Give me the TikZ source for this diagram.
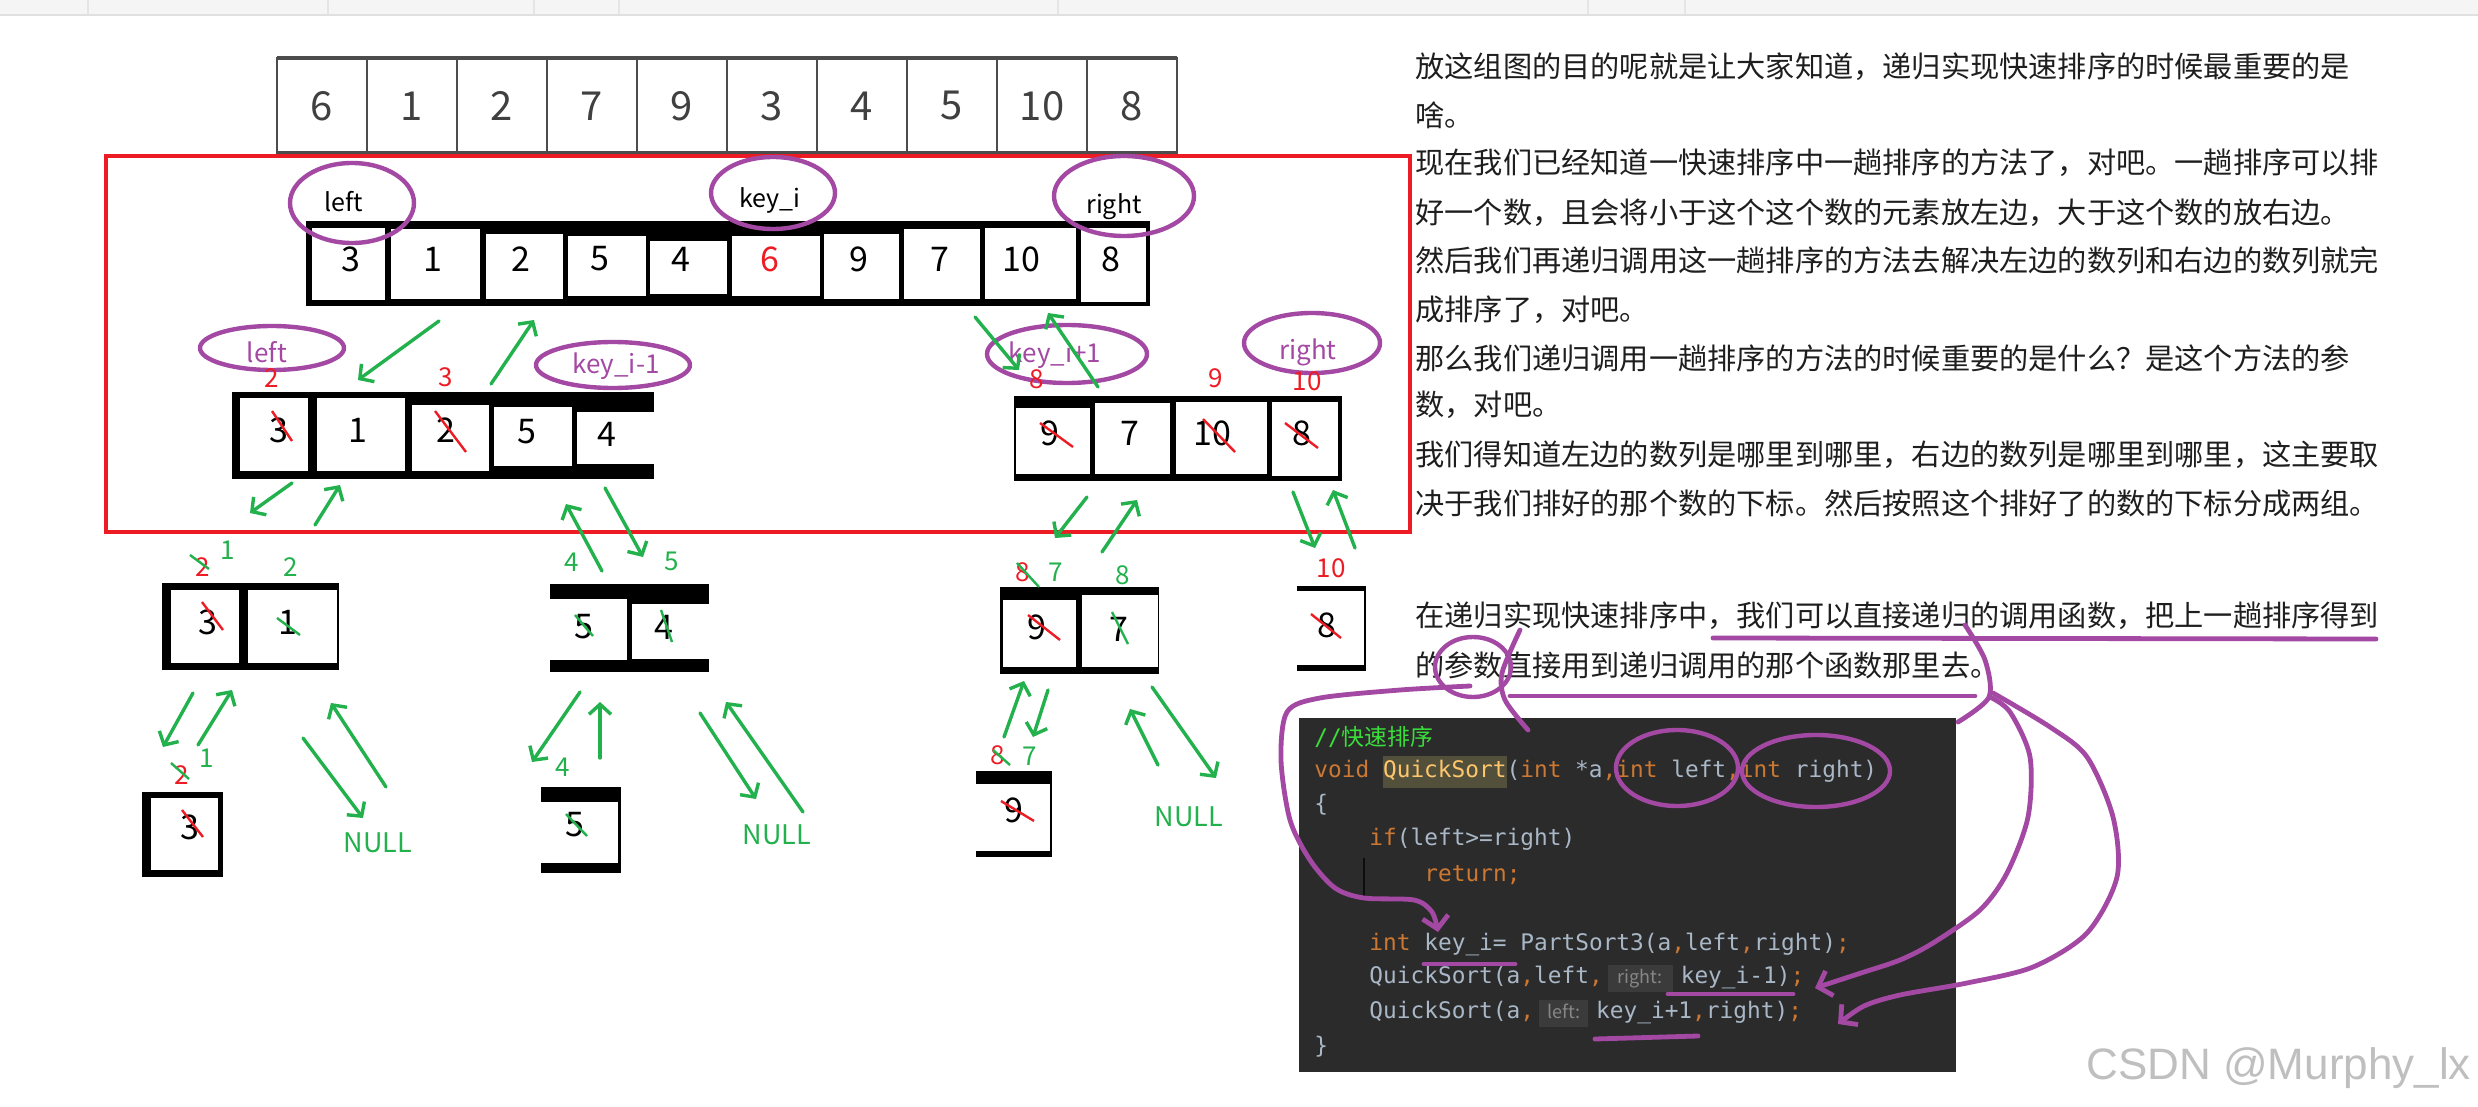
\documentclass[tikz,border=0pt]{standalone}
\usepackage{fontspec}
\setmainfont{Noto Sans CJK SC}
\newfontfamily\codefont{DejaVu Sans Mono}
\newfontfamily\markfont{Liberation Sans}
\usepackage{xcolor}
\usetikzlibrary{arrows.meta,calc}

\definecolor{paintred}{RGB}{237,28,36}
\definecolor{paintgreen}{RGB}{34,177,76}
\definecolor{paintpurple}{RGB}{163,73,164}
\definecolor{codebg}{RGB}{43,43,43}
\definecolor{kw}{RGB}{204,120,50}
\definecolor{plain}{RGB}{169,183,198}
\definecolor{fn}{RGB}{255,198,109}
\definecolor{fnbg}{RGB}{82,80,58}
\definecolor{cmt}{RGB}{58,222,58}
\definecolor{hintbg}{RGB}{59,59,59}
\definecolor{hinttxt}{RGB}{135,135,135}
\definecolor{txt}{RGB}{30,30,30}

% inlay hint box of the IDE
\newcommand{\inlay}[2]{\kern2.5pt{\setlength{\fboxsep}{0pt}\colorbox{hintbg}{\makebox[#1]{\rule[-4pt]{0pt}{13.5pt}{\rmfamily\fontsize{9}{9}\selectfont\color{hinttxt}#2}}}}\kern4pt}

\begin{document}
\begin{tikzpicture}[x=0.5pt, y=-0.5pt,
  num/.style={font=\fontsize{17}{17}\selectfont, inner sep=0pt},
  hand/.style={font=\fontsize{20}{20}\selectfont, text=black!75, inner sep=0pt},
  lbl/.style={font=\fontsize{12.5}{12.5}\selectfont, inner sep=0pt},
  plbl/.style={font=\fontsize{13}{13}\selectfont, text=paintpurple, inner sep=0pt},
  rnum/.style={font=\fontsize{13}{13}\selectfont, text=paintred, inner sep=0pt},
  gnum/.style={font=\fontsize{13}{13}\selectfont, text=paintgreen, inner sep=0pt},
  nulltxt/.style={font=\fontsize{13.5}{13.5}\selectfont, text=paintgreen, inner sep=0pt},
  para/.style={font=\fontsize{14.6}{14.6}\selectfont, text=txt, anchor=west, inner sep=0pt},
  codeln/.style={font=\codefont\fontsize{11.4}{11.4}\selectfont, text=plain, anchor=west, inner sep=0pt},
  garrow/.style={draw=paintgreen, line width=1.7pt, line cap=round, -{Straight Barb[length=5pt,width=11pt]}},
  pring/.style={draw=paintpurple, line width=2.2pt},
  pstroke/.style={draw=paintpurple, line width=2.4pt, line cap=round, line join=round},
  rstrike/.style={draw=paintred, line width=1.2pt},
  gstrike/.style={draw=paintgreen, line width=1.2pt}]
\useasboundingbox (0,0) rectangle (2478,1107);
\fill[white] (0,0) rectangle (2478,1107);

% Window strip
\fill[black!4] (0,0) rectangle (2478,15);
\draw[black!12, line width=1pt] (0,15) -- (2478,15);
\foreach \x in {88,328,534,619,1058,1588,1685}
  \draw[black!10, line width=0.8pt] (\x,0) -- (\x,14);

% Input array
\foreach \i/\v in {1/6,2/1,3/2,4/7,5/9,6/3,7/4,8/5,9/10,10/8} {
  \draw[black!70, line width=1pt] ({277+90*(\i-1)},58) rectangle ({277+90*\i},153);
  \node[hand] (t\i) at ({277+90*(\i-0.5)},106) {\v};
}
\draw[black!70, line width=2pt] (277,58) -- (1177,58);
\draw[black!70, line width=1.6pt] (277,153) -- (1177,153);

% One pass
\draw[paintred, line width=2.4pt] (106,156) rectangle (1410,532);

% Black frames
\foreach \xa/\ya/\xb/\yb in {306/221/1150/306, 232/392/654/479, 1014/396/1342/481,
    162/583/339/670, 550/584/709/672, 1000/587/1159/674, 1297/586/1366/671,
    142/792/223/877, 541/787/621/873, 976/771/1052/857}
  \fill[black] (\xa,\ya) rectangle (\xb,\yb);

% White cells
\foreach \xa/\ya/\xb/\yb in {312/228/385/300, 391/229/480/299, 486/234/563/299, 568/236/646/296,
    650/241/727/294, 732/236/820/296, 824/234/899/299, 904/229/980/299, 985/228/1076/299,
    1081/228/1146/302,
    240/398/308/471, 317/398/405/471, 412/405/489/471, 494/407/572/466, 577/412/654/464,
    1016/408/1090/474, 1095/403/1170/474, 1176/402/1267/474, 1272/402/1338/476,
    171/590/239/663, 248/590/337/663, 550/599/627/660, 632/604/709/659,
    1003/600/1076/667, 1082/595/1158/667, 1297/591/1364/665,
    151/798/218/870, 541/802/618/863, 976/784/1050/851}
  \fill[white] (\xa,\ya) rectangle (\xb,\yb);

% Digits
\foreach \n/\x/\y/\v in {m1/351/259/3, m2/433/259/1, m3/521/259/2, m4/600/259/5, m5/681/259/4,
    m7/859/259/9, m8/940/259/7, m9/1021/259/10, m10/1111/259/8,
    l1/279/430/3, l2/358/430/1, l3/446/430/2, l4/527/432/5, l5/607/434/4,
    r1/1050/433/9, r2/1130/433/7, r3/1212/433/10, r4/1302/433/8,
    la1/208/622/3, la2/288/622/1, lb1/584/627/5, lb2/664/627/4,
    rc1/1037/627/9, rc2/1119/629/7, rd1/1327/625/8,
    le1/190/827/3, lf1/575/825/5, rg1/1014/810/9}
  \node[num] (\n) at (\x,\y) {\v};
\node[num, text=paintred] (m6) at (770,259) {6};

% Strikes
\foreach \n/\ax/\ay/\bx/\by in {l1/-7/-19/13/11, l3/-11/-19/20/22, r1/-10/-10/23/14,
    r3/-9/-14/23/19, r4/-17/-10/16/15, la1/-6/-20/15/8, rc1/-9/-12/23/13,
    rd1/-16/-11/14/13, le1/-8/-17/13/10, rg1/-13/-9/20/11}
  \draw[rstrike] ([shift={(\ax,\ay)}]\n.center) -- ([shift={(\bx,\by)}]\n.center);
\foreach \n/\ax/\ay/\bx/\by in {la2/-11/-4/12/13, lb1/-9/-12/9/9, lb2/-3/-17/8/15,
    rc2/-7/-17/9/15, lf1/-9/-11/12/11}
  \draw[gstrike] ([shift={(\ax,\ay)}]\n.center) -- ([shift={(\bx,\by)}]\n.center);

% Labels of the first pass
\node[lbl] (kl) at (344,202) {left};
\node[lbl] (kk) at (770,200) {key\_i};
\node[lbl] (kr) at (1114,207) {right};
\draw[pring] (352,203) ellipse [x radius=62, y radius=40];
\draw[pring] (773,193) ellipse [x radius=62, y radius=36];
\draw[pring] (1124,196) ellipse [x radius=70, y radius=40];

% Labels of the two halves
\node[plbl] (sl) at (267,352) {left};
\node[plbl] (skm) at (616,366) {key\_i-1};
\node[plbl] (skp) at (1055,355) {key\_i+1};
\node[plbl] (sr) at (1308,352) {right};
\draw[pring] (272,348) ellipse [x radius=72, y radius=22];
\draw[pring] (613,365) ellipse [x radius=77, y radius=23];
\draw[pring] (1067,354) ellipse [x radius=80, y radius=29];
\draw[pring] (1312,343) ellipse [x radius=68, y radius=30];
\node[rnum] (n2) at (272,378) {2};
\node[rnum] (n3) at (446,377) {3};
\node[rnum] (n8) at (1037,379) {8};
\node[rnum] (n9) at (1216,378) {9};
\node[rnum] (n10) at (1307,381) {10};

% Index labels below
\node[rnum] (i2a) at (203,567) {2};
\node[gnum] (i1a) at (228,550) {1};
\node[gnum] (i2b) at (291,567) {2};
\node[gnum] (i4) at (572,562) {4};
\node[gnum] (i5) at (672,561) {5};
\node[rnum] (i8a) at (1023,572) {8};
\node[gnum] (i7) at (1056,572) {7};
\node[gnum] (i8b) at (1123,575) {8};
\node[rnum] (i10) at (1331,568) {10};
\node[rnum] (j2) at (182,775) {2};
\node[gnum] (j1) at (207,758) {1};
\node[gnum] (j4) at (563,767) {4};
\node[rnum] (j8) at (998,755) {8};
\node[gnum] (j7) at (1030,756) {7};
\foreach \n/\ax/\ay/\bx/\by in {i2a/-13/-12/6/2, i8a/-6/-9/16/15, j2/-11/-12/7/4, j8/-5/-5/12/10}
  \draw[gstrike] ([shift={(\ax,\ay)}]\n.center) -- ([shift={(\bx,\by)}]\n.center);
\node[nulltxt] (z1) at (378,843) {NULL};
\node[nulltxt] (z2) at (777,835) {NULL};
\node[nulltxt] (z3) at (1189,817) {NULL};

% Green arrows
\foreach \i/\ax/\ay/\bx/\by in {1/439/321/358/380, 2/491/384/534/320, 3/975/317/1019/370,
    4/1098/387/1048/313, 5/292/483/250/513, 6/315/525/340/485, 7/602/571/566/504,
    8/605/488/643/557, 9/1087/497/1055/538, 10/1102/552/1137/500, 11/1293/492/1315/548,
    12/1355/548/1333/490, 13/193/693/163/747, 14/198/745/232/690, 15/303/738/363/818,
    16/386/787/331/703, 17/580/692/532/762, 18/600/758/600/702, 19/700/713/756/799,
    20/803/812/726/702, 21/1048/690/1033/737, 22/1004/737/1024/681, 23/1152/687/1216/778,
    24/1158/765/1130/709} {
  \coordinate (ga\i) at (\ax,\ay);
  \coordinate (gb\i) at (\bx,\by);
  \draw[garrow] (ga\i) -- (gb\i);
}

% Explanation
\foreach \i/\y/\words in {1/67/放这组图的目的呢就是让大家知道，递归实现快速排序的时候最重要的是,
    2/115/啥。,
    3/163/现在我们已经知道一快速排序中一趟排序的方法了，对吧。一趟排序可以排,
    4/213/好一个数，且会将小于这个这个数的元素放左边，大于这个数的放右边。,
    5/260/然后我们再递归调用这一趟排序的方法去解决左边的数列和右边的数列就完,
    6/310/成排序了，对吧。,
    7/358/那么我们递归调用一趟排序的方法的时候重要的是什么？是这个方法的参,
    8/405/数，对吧。,
    9/455/我们得知道左边的数列是哪里到哪里，右边的数列是哪里到哪里，这主要取,
    10/503/决于我们排好的那个数的下标。然后按照这个排好了的数的下标分成两组。,
    11/616/在递归实现快速排序中，我们可以直接递归的调用函数，把上一趟排序得到,
    12/665/的参数直接用到递归调用的那个函数那里去。}
  \node[para] (w\i) at (1415,\y) {\words};

% Code
\fill[codebg] (1299,718) rectangle (1956,1072);
\fill[fnbg] (1383,756) rectangle (1507,788);
\draw[black!70!codebg, line width=0.8pt] (1364,858) -- (1364,897);
\node[codeln] (cl1) at (1314,737) {\textcolor{cmt}{//{\rmfamily 快速排序}}};
\node[codeln] (cl2) at (1314,771) {\textcolor{kw}{void} \textcolor{fn}{QuickSort}(\textcolor{kw}{int} *a\textcolor{kw}{,int} left\textcolor{kw}{,int} right)};
\node[codeln] (cl3) at (1314,805) {\{};
\node[codeln] (cl4) at (1369,839) {\textcolor{kw}{if}(left>=right)};
\node[codeln] (cl5) at (1424,875) {\textcolor{kw}{return;}};
\node[codeln] (cl7) at (1369,944) {\textcolor{kw}{int} key\_i= PartSort3(a\textcolor{kw}{,}left\textcolor{kw}{,}right)\textcolor{kw}{;}};
\node[codeln] (cl8) at (1369,978) {QuickSort(a\textcolor{kw}{,}left\textcolor{kw}{,}\inlay{32.5pt}{right:}key\_i-1)\textcolor{kw}{;}};
\node[codeln] (cl9) at (1369,1013) {QuickSort(a\textcolor{kw}{,}\inlay{24.5pt}{left:}key\_i+1\textcolor{kw}{,}right)\textcolor{kw}{;}};
\node[codeln] (cl10) at (1314,1047) {\}};

% Purple marks
\draw[pring] (1473,667) ellipse [x radius=38, y radius=30];
\draw[pring] (1677,768) ellipse [x radius=61, y radius=38];
\draw[pring] (1816,771) ellipse [x radius=74, y radius=36];
\draw[pstroke] (1713,638) -- (2376,639);
\draw[pstroke] (1510,696) -- (1975,696);
\draw[pstroke] (1424,964) -- (1515,964);
\draw[pstroke] (1668,994) -- (1793,994);
\draw[pstroke] (1595,1039) -- (1698,1036);
\draw[pstroke] plot[smooth] coordinates {(1520,630) (1502,673) (1505,700) (1528,730)};
\draw[pstroke] plot[smooth] coordinates {(1965,625) (1985,660) (1989,697) (1958,722)};
\draw[pstroke, -{Straight Barb[length=6pt,width=13pt]}] plot[smooth] coordinates {(1470,686) (1400,690) (1320,698) (1287,712) (1281,760) (1290,820) (1310,860) (1335,888) (1364,898) (1414,900) (1432,912) (1438,932)};
\draw[pstroke, -{Straight Barb[length=6pt,width=13pt]}] plot[smooth] coordinates {(1990,697) (2010,712) (2030,757) (2028,817) (2007,873) (1980,910) (1933,943) (1900,960) (1861,973) (1815,988)};
\draw[pstroke, -{Straight Barb[length=6pt,width=13pt]}] plot[smooth] coordinates {(1993,693) (2050,727) (2087,757) (2113,817) (2117,877) (2087,933) (2033,967) (1967,983) (1900,995) (1864,1006) (1838,1024)};

% Watermark
\node[font=\markfont\fontsize{22}{22}\selectfont, text=black!25, anchor=west, inner sep=0pt] (mark) at (2086,1068) {CSDN @Murphy\_lx};
\end{tikzpicture}
\end{document}
